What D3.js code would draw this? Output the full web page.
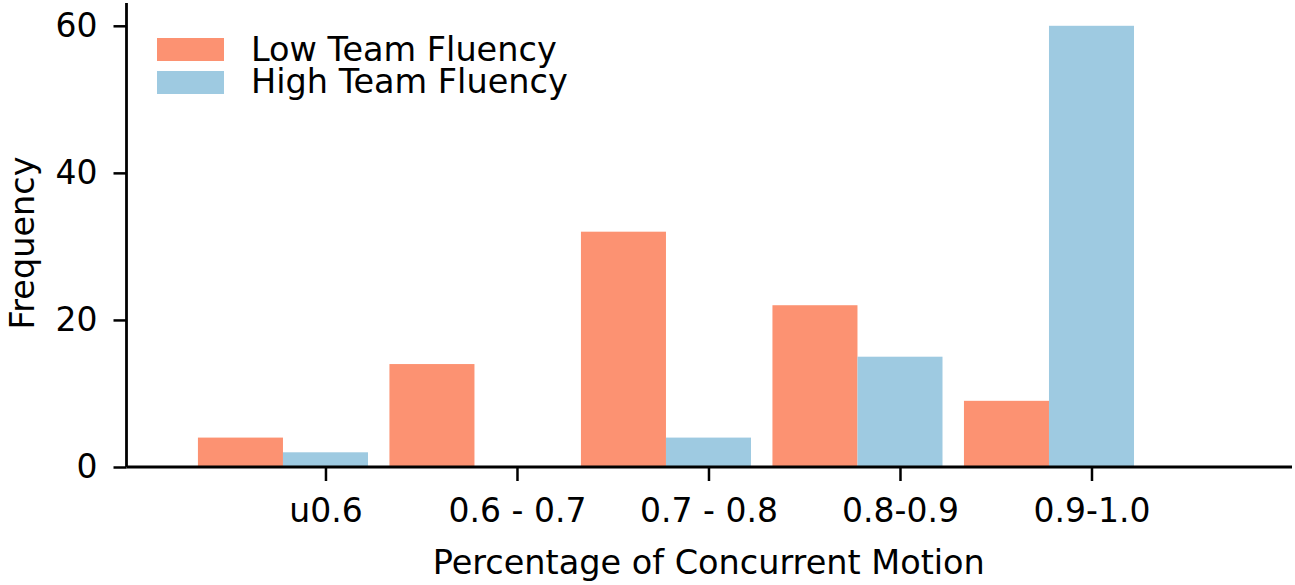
<!DOCTYPE html>
<html><head><meta charset="utf-8">
<script src="https://cdn.jsdelivr.net/npm/d3@7"></script>
<style>body{margin:0;background:#fff}svg{display:block}text{font-family:"DejaVu Sans",sans-serif;fill:#000}</style>
</head><body><svg id="c" width="1295" height="585"></svg>
<script>
const categories = ["u0.6", "0.6 - 0.7", "0.7 - 0.8", "0.8-0.9", "0.9-1.0"];
const lowFluency = [4, 14, 32, 22, 9];
const highFluency = [2, 0, 4, 15, 60];
const seriesNames = ["Low Team Fluency", "High Team Fluency"];
const seriesColors = ["#fc9272", "#9ecae1"];
const yTicks = [0, 20, 40, 60];

(function () {
const svg = d3.select("#c");
const pl = 126.5, pr = 1292, pt = 3, pb = 467;
const x = d3.scaleLinear().domain([-1.039, 5.047]).range([pl, pr]);
const y = d3.scaleLinear().domain([0, 63.1]).range([pb, pt]);
const w = 0.444;
const tfs = 33, lfs = 33.5, gfs = 33.5;

const series = [lowFluency, highFluency];
series.forEach((vals, si) => {
  svg.append("g").selectAll("rect").data(vals).join("rect")
    .attr("x", (d, i) => x(i - w * (si === 0 ? 1.5 : 0.5)))
    .attr("width", x(w) - x(0))
    .attr("y", d => y(d))
    .attr("height", d => y(0) - y(d))
    .attr("fill", seriesColors[si]);
});

const xAxis = d3.axisBottom(x).tickValues(d3.range(categories.length))
  .tickFormat(i => categories[i]).tickSize(14).tickPadding(18);
const gx = svg.append("g").attr("transform", `translate(0,${pb})`).call(xAxis);
const yAxis = d3.axisLeft(y).tickValues(yTicks).tickSize(13).tickPadding(16);
const gy = svg.append("g").attr("transform", `translate(${pl},0)`).call(yAxis);
gx.select(".domain").attr("d", `M${pl},0H${pr}`);
gy.select(".domain").attr("d", `M0,${pb}V${pt}`);
[gx, gy].forEach(g => {
  g.select(".domain").attr("stroke", "#000").attr("stroke-width", 2.8);
  g.selectAll(".tick line").attr("stroke", "#000").attr("stroke-width", 2.5);
  g.selectAll(".tick text").attr("font-size", tfs).attr("font-family", "DejaVu Sans");
});

svg.append("text").attr("x", (pl + pr) / 2 - 0.5).attr("y", 574)
  .attr("text-anchor", "middle").attr("font-size", lfs).text("Percentage of Concurrent Motion");
svg.append("text").attr("transform", `translate(33.5,243) rotate(-90)`)
  .attr("text-anchor", "middle").attr("font-size", lfs).text("Frequency");

const leg = svg.append("g");
seriesNames.forEach((n, i) => {
  leg.append("rect").attr("x", 157).attr("y", 38 + i * 33).attr("width", 67).attr("height", 23)
    .attr("fill", seriesColors[i]);
  leg.append("text").attr("x", 251).attr("y", 60.7 + i * 32.6).attr("font-size", gfs).text(n);
});
})();
</script></body></html>
